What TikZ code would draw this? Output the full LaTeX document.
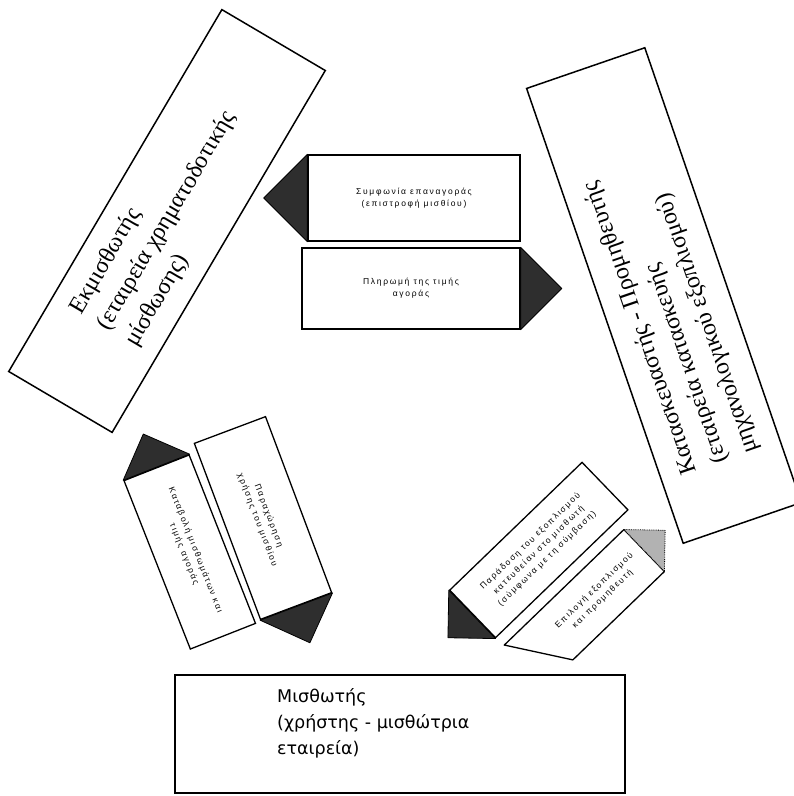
\documentclass[tikz,border=0pt]{standalone}
\usepackage{fontspec}
\setmainfont{Liberation Serif}
\newfontfamily\labelsans{DejaVu Sans}
\newfontfamily\tinysans[LetterSpace=20]{Liberation Sans}
\usetikzlibrary{calc}

\begin{document}
\begin{tikzpicture}[x=1pt,y=-1pt,
  box/.style={draw, line width=1.5pt, inner sep=0pt},
  partytext/.style={inner sep=0pt, font=\fontsize{24}{32}\selectfont, align=left},
  arrowbox/.style={draw, line width=1.3pt, inner sep=0pt,
    font=\tinysans\fontsize{8.5}{12}\selectfont, align=center},
  tipfill/.style={fill=black!82, draw=black, line width=0.8pt, line join=round},
  lighttip/.style={fill=black!30, draw=black, line width=0.8pt, densely dotted},
]
\useasboundingbox (0,0) rectangle (794,796);

% --- the three parties -------------------------------------------------
\node[box, partytext, rotate=59.5, minimum width=420pt, minimum height=120pt]
  (lessor) at (167,221)
  {Εκμισθωτής\\(εταιρεία χρηματοδοτικής\\μίσθωσης)};

\node[box, rotate=109, minimum width=481pt, minimum height=125pt]
  (supplier) at (664,295.5) {};
\node[partytext, rotate=109] (supplierlabel)
  at ($(supplier.center)!23pt!(supplier.west)$)
  {Κατασκευαστής - Προμηθευτής\\(εταιρεία κατασκευής\\μηχανολογικού εξοπλισμού)};

\node[box, minimum width=450pt, minimum height=118pt] (lessee) at (400,734) {};
\node[anchor=north west, inner sep=0pt, align=left,
  font=\labelsans\fontsize{17.5}{26}\selectfont] (lesseelabel) at (277,688)
  {Μισθωτής\\(χρήστης - μισθώτρια\\εταιρεία)};

% --- flows between lessor and supplier ---------------------------------
\node[arrowbox, minimum width=212pt, minimum height=86pt] (t1) at (414,198)
  {Συμφωνία επαναγοράς\\(επιστροφή μισθίου)};
\fill[tipfill] (t1.north west) -- ($(t1.west)!1!90:(t1.north west)$)
  -- (t1.south west) -- cycle;

\node[arrowbox, minimum width=218pt, minimum height=81pt] (t2) at (411,288.5)
  {Πληρωμή της τιμής\\αγοράς};
\fill[tipfill] (t2.north east) -- ($(t2.east)!1!-90:(t2.north east)$)
  -- (t2.south east) -- cycle;

% --- flows between lessor and lessee -----------------------------------
\node[arrowbox, rotate=-68.5, minimum width=181pt, minimum height=70pt]
  (l1) at (189.75,552) {Καταβολή μισθωμάτων και\\τιμής αγοράς};
\fill[tipfill] (l1.north west) -- ($(l1.west)!1!90:(l1.north west)$)
  -- (l1.south west) -- cycle;

\node[arrowbox, rotate=-69.4, minimum width=188pt, minimum height=76pt]
  (l2) at (263,518) {Παραχώρηση\\χρήσης του μισθίου};
\fill[tipfill] (l2.north east) -- ($(l2.east)!1!-90:(l2.north east)$)
  -- (l2.south east) -- cycle;

% --- flows between supplier and lessee ---------------------------------
\node[arrowbox, rotate=44, minimum width=184pt, minimum height=66pt]
  (r1) at (538.8,550)
  {Παράδοση του εξοπλισμού\\κατευθείαν στο μισθωτή\\(σύμφωνα με τη σύμβαση)};
\fill[tipfill] (r1.north west) -- ($(r1.west)!1!90:(r1.north west)$)
  -- (r1.south west) -- cycle;

\node[arrowbox, draw=none, rotate=44, minimum width=126pt, minimum height=57pt]
  (r2) at (598.4,594.7) {Επιλογή εξοπλισμού\\και προμηθευτή};
\coordinate (r2cut) at ($(r2.north west)!-39pt!(r2.north east)$);
\draw[line width=1.3pt, line join=round]
  (r2cut) -- (r2.north east) -- (r2.south east) -- (r2.south west) -- cycle;
\filldraw[lighttip] (r2.north east) -- ($(r2.east)!1!-90:(r2.north east)$)
  -- (r2.south east) -- cycle;
\end{tikzpicture}
\end{document}
